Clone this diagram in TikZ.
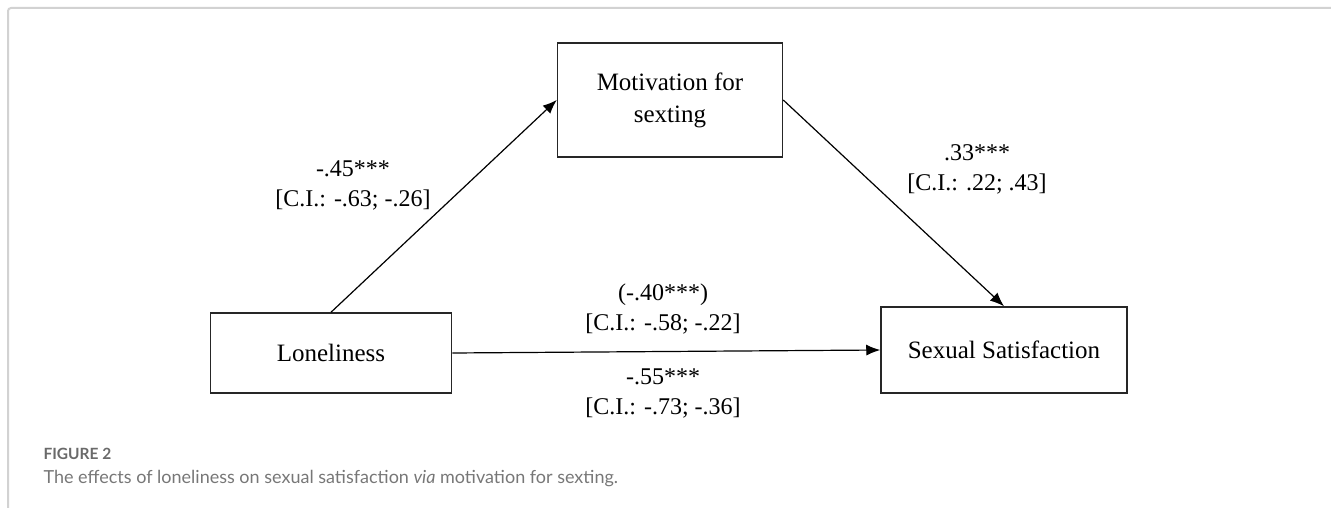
\documentclass[tikz,border=0pt]{standalone}
\usepackage{fontspec}
\setmainfont{Liberation Serif}
\newfontfamily\capfont{Lato}
\usetikzlibrary{arrows.meta}
\definecolor{marco}{HTML}{D2D2D2}
\definecolor{gristexto}{HTML}{777777}
\definecolor{grisfigura}{HTML}{6A6A6A}
\begin{document}
\begin{tikzpicture}[x=1pt, y=-1pt,
    caja/.style={draw=black!85, line width=1.5pt, inner sep=0pt,
        align=center, font=\fontsize{25}{32}\selectfont},
    flecha/.style={-{Latex[length=14pt,width=11pt]}, line width=1.2pt},
    etiqueta/.style={align=center, font=\fontsize{24}{30}\selectfont}]
    \useasboundingbox (0,0) rectangle (1331,508);
    % Marco
    \draw[marco, line width=2pt, rounded corners=3pt]
        (8,520) -- (8,8) -- (1345,8);
    % Variables
    \node[caja, minimum width=241pt, minimum height=80pt]
        (soledad) at (331,353) {Loneliness};
    \node[caja, minimum width=225pt, minimum height=114pt]
        (motivo) at (670,100) {Motivation for\\sexting};
    \node[caja, minimum width=246pt, minimum height=86pt]
        (satisf) at (1004,350) {Sexual Satisfaction};
    % Caminos
    \draw[flecha] (soledad.north) -- (motivo.west);
    \draw[flecha] (motivo.east) -- (satisf.north);
    \draw[flecha] (soledad.east) -- (satisf.west);
    % Coeficientes
    \node[etiqueta] (coefA) at (353,185) {-.45***\\{}[C.I.: -.63; -.26]};
    \node[etiqueta] (coefB) at (977,169) {.33***\\{}[C.I.: .22; .43]};
    \node[etiqueta] (coefC) at (663,309) {(-.40***)\\{}[C.I.: -.58; -.22]};
    \node[etiqueta] (coefD) at (663,393) {-.55***\\{}[C.I.: -.73; -.36]};
    % Pie de figura
    \node[anchor=west, text=grisfigura, font=\capfont\bfseries\fontsize{15.5}{16}\selectfont]
        (figura) at (40,454) {FIGURE 2};
    \node[anchor=west, text=gristexto, font=\capfont\fontsize{18}{18}\selectfont]
        (pie) at (40,479) {The effects of loneliness on sexual satisfaction \emph{via} motivation for sexting.};
\end{tikzpicture}
\end{document}
